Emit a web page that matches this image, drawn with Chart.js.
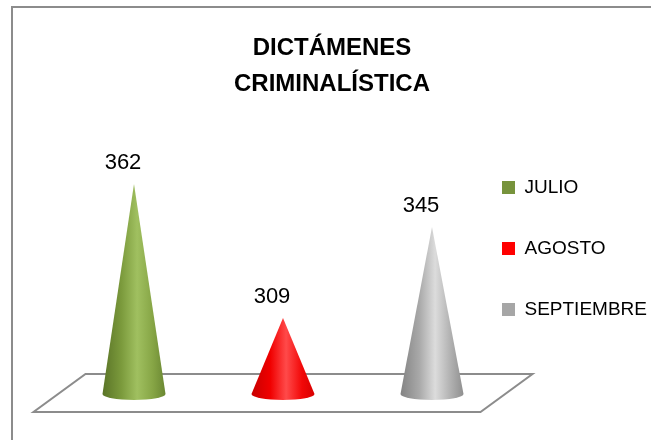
<!DOCTYPE html>
<html>
<head>
<meta charset="utf-8">
<script src="https://cdn.jsdelivr.net/npm/chart.js@4/dist/chart.umd.min.js"></script>
<style>
  html, body { margin: 0; padding: 0; background: #ffffff; }
  #wrap { position: relative; width: 651px; height: 440px; }
</style>
</head>
<body>
<div id="wrap"><canvas id="c" width="651" height="440"></canvas></div>
<script>
const titleLines = ['DICTÁMENES', 'CRIMINALÍSTICA'];
const categories = ['JULIO', 'AGOSTO', 'SEPTIEMBRE'];
const values = [362, 309, 345];
const legendColors = ['#77933c', '#ff0000', '#a6a6a6'];
const coneShades = [
  ['#5a7427', '#7b9a3c', '#a0c060', '#86a545', '#6a8732'],
  ['#c80000', '#f00000', '#ff4a4a', '#f20808', '#d80000'],
  ['#838383', '#a9a9a9', '#dcdcdc', '#b0b0b0', '#8f8f8f']
];

const framePlugin = {
  id: 'frame',
  beforeDraw(chart) {
    const ctx = chart.ctx;
    ctx.save();
    ctx.fillStyle = '#ffffff';
    ctx.fillRect(0, 0, chart.width, chart.height);
    ctx.strokeStyle = '#8c8c8c';
    ctx.lineWidth = 2;
    ctx.strokeRect(12, 7, 700, 500);
    ctx.restore();
  },
  beforeDatasetsDraw(chart) {
    const ctx = chart.ctx;
    const a = chart.chartArea;
    const base = chart.scales.y.getPixelForValue(chart.scales.y.min);
    const half = (a.right - a.left) / 4;
    const midL = a.left - half, midR = a.right + half;
    const dx = 26, dyT = 20, dyB = 18;
    ctx.save();
    ctx.strokeStyle = '#8c8c8c';
    ctx.lineWidth = 2;
    ctx.beginPath();
    ctx.moveTo(midL + dx, base - dyT);
    ctx.lineTo(midR + dx, base - dyT);
    ctx.lineTo(midR - dx, base + dyB);
    ctx.lineTo(midL - dx, base + dyB);
    ctx.closePath();
    ctx.stroke();
    ctx.restore();
  },
  afterDatasetsDraw(chart) {
    const ctx = chart.ctx;
    const meta = chart.getDatasetMeta(0);
    const base = chart.scales.y.getPixelForValue(chart.scales.y.min);
    ctx.save();
    meta.data.forEach((el, i) => {
      const x = el.x, tip = el.y, r = el.width / 2, ry = 6;
      const sh = coneShades[i];
      const g = ctx.createLinearGradient(x - r, 0, x + r, 0);
      g.addColorStop(0, sh[0]);
      g.addColorStop(0.3, sh[1]);
      g.addColorStop(0.55, sh[2]);
      g.addColorStop(0.8, sh[3]);
      g.addColorStop(1, sh[4]);
      ctx.fillStyle = g;
      ctx.beginPath();
      ctx.moveTo(x, tip);
      ctx.lineTo(x - r, base);
      ctx.ellipse(x, base, r, ry, 0, Math.PI, 0, true);
      ctx.lineTo(x, tip);
      ctx.closePath();
      ctx.fill();
      ctx.fillStyle = '#000000';
      ctx.font = '22px "Liberation Sans", Arial, sans-serif';
      ctx.textAlign = 'center';
      ctx.textBaseline = 'middle';
      ctx.fillText(String(values[i]), x - 11, tip - 21);
    });
    ctx.restore();
  }
};

new Chart(document.getElementById('c'), {
  type: 'bar',
  data: {
    labels: categories,
    datasets: [{
      label: 'Dictámenes',
      data: values,
      backgroundColor: 'rgba(0,0,0,0)',
      borderWidth: 0,
      categoryPercentage: 1,
      barPercentage: 0.423,
      clip: false
    }]
  },
  options: {
    responsive: false,
    animation: false,
    events: [],
    layout: { padding: { left: 13, right: 0, top: 0, bottom: 46 } },
    scales: {
      x: { type: 'category', offset: false, display: false },
      y: {
        type: 'linear', position: 'left', min: 279, max: 381,
        display: true,
        grid: { display: false }, border: { display: false },
        ticks: { display: false },
        afterFit: (s) => { s.width = 121; }
      },
      yR: {
        type: 'linear', position: 'right', display: true,
        grid: { display: false }, border: { display: false },
        ticks: { display: false },
        afterFit: (s) => { s.width = 28; }
      }
    },
    plugins: {
      title: {
        display: true,
        text: titleLines,
        color: '#000000',
        font: { family: '"Liberation Sans", Arial, sans-serif', size: 24, weight: 'bold', lineHeight: 1.5 },
        padding: { top: 30.5, bottom: 33.5 }
      },
      legend: {
        display: true,
        position: 'right',
        align: 'start',
        fullSize: false,
        maxWidth: 191,
        labels: {
          boxWidth: 13,
          boxHeight: 13,
          padding: 42,
          color: '#000000',
          font: { family: '"Liberation Sans", Arial, sans-serif', size: 19 },
          generateLabels: () => categories.map((c, i) => ({
            text: c, fillStyle: legendColors[i], strokeStyle: legendColors[i],
            lineWidth: 0, hidden: false, index: i, fontColor: '#000000'
          }))
        }
      },
      tooltip: { enabled: false }
    }
  },
  plugins: [framePlugin]
});
</script>
</body>
</html>
